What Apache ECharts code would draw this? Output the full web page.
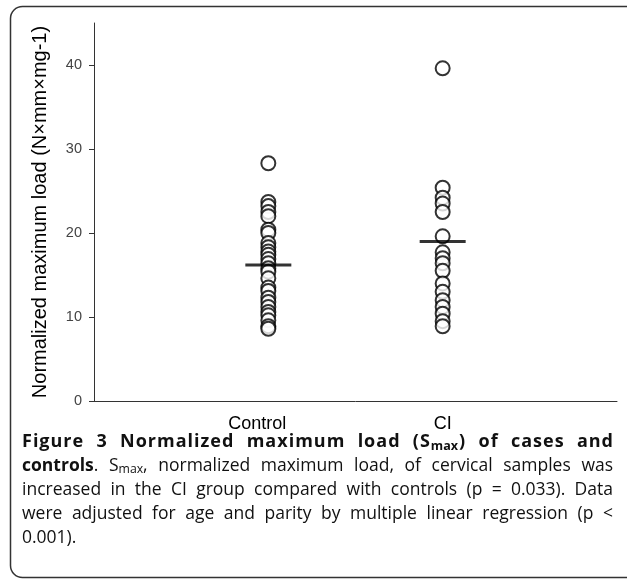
<!DOCTYPE html>
<html><head><meta charset="utf-8">
<script src="https://cdn.jsdelivr.net/npm/echarts@6/dist/echarts.min.js"></script>
<style>html,body{margin:0;padding:0;background:#fff}#c{width:627px;height:585px}</style>
</head><body><div id="c"></div>
<script>
// ---- data ----
const categories = ['Control', 'CI'];
const categoryPos = [1, 2];
const controlValues = [28.3, 23.7, 23.2, 22.5, 22.0, 20.4, 20.0, 18.8, 18.3, 17.8, 17.4, 16.9, 16.4, 15.8, 15.4, 14.6, 13.5, 13.1, 12.3, 11.8, 11.2, 10.6, 10.2, 9.6, 8.9, 8.6];
const ciValues = [39.6, 25.4, 24.2, 23.5, 22.5, 19.6, 17.7, 17.0, 16.4, 15.5, 14.0, 13.0, 12.0, 11.2, 10.4, 9.5, 8.9];
const meanValues = [16.2, 19.0];
const yTicks = [0, 10, 20, 30, 40];
const yAxisTitle = 'Normalized maximum load (N×mm×mg-1)';

const chart = echarts.init(document.getElementById('c'), null, {renderer: 'canvas'});

// ---- caption (justified via measured widths) ----
const FONT = '"Open Sans", sans-serif';
const captionLines = [
  {justify: 'word', size: 18, letter: 1, words: [
    [['Figure', 'b']], [['3', 'b']], [['Normalized', 'b']], [['maximum', 'b']], [['load', 'b']],
    [['(S', 'b'], ['max', 'bs'], [')', 'b']], [['of', 'b']], [['cases', 'b']], [['and', 'b']]]},
  {justify: 'word', size: 17.5, letter: 0, words: [
    [['controls', 'b'], ['.', 'r']], [['S', 'r'], ['max', 'rs'], [',', 'r']], [['normalized', 'r']], [['maximum', 'r']],
    [['load,', 'r']], [['of', 'r']], [['cervical', 'r']], [['samples', 'r']], [['was', 'r']]]},
  {justify: 'word', size: 17.5, letter: 0, words: 'increased in the CI group compared with controls (p = 0.033). Data'.split(' ').map(w => [[w, 'r']])},
  {justify: 'word', size: 17.5, letter: 0, words: 'were adjusted for age and parity by multiple linear regression (p <'.split(' ').map(w => [[w, 'r']])},
  {justify: 'none', size: 17.5, letter: 0, words: '0.001).'.split(' ').map(w => [[w, 'r']])}
];
function fontFor(k, size) {
  const bold = k[0] === 'b';
  const sub = k.length > 1 && k[1] === 's';
  return (bold ? 'bold ' : '') + (sub ? size * 0.7 : size) + 'px ' + FONT;
}
const ctx = document.createElement('canvas').getContext('2d');
function measure(t, k, size) { ctx.font = fontFor(k, size); return ctx.measureText(t).width; }
const capLeft = 22, capRight = 613, capTop = 442, capLH = 24;
const captionGraphics = [];
function pushText(t, k, x, y, size) {
  const sub = k.length > 1;
  captionGraphics.push({
    type: 'text', x: x, y: sub ? y + 4 : y, silent: true,
    style: {text: t, font: fontFor(k, size), fill: '#111', verticalAlign: 'middle'}
  });
}
// split a word into drawable pieces (per character when letter spacing is used)
function pieces(w, ls) {
  const out = [];
  w.forEach(seg => {
    if (ls > 0 && seg[1].length === 1) seg[0].split('').forEach(ch => out.push([ch, seg[1]]));
    else out.push(seg);
  });
  return out;
}
captionLines.forEach((line, li) => {
  const y = capTop + li * capLH;
  const size = line.size, ls = line.letter;
  const words = line.words.map(w => pieces(w, ls));
  const widths = words.map(p => p.reduce((s, seg) => s + measure(seg[0], seg[1], size), 0) + ls * (p.length - 1));
  const total = widths.reduce((a, b) => a + b, 0);
  const normalGap = measure(' ', 'r', size);
  const gap = line.justify === 'word' ? (capRight - capLeft - total) / (words.length - 1) : normalGap;
  let x = capLeft;
  words.forEach((p, wi) => {
    let sx = x;
    p.forEach(seg => { pushText(seg[0], seg[1], sx, y, size); sx += measure(seg[0], seg[1], size) + ls; });
    x += widths[wi] + gap;
  });
});

const AX = 'Liberation Sans, Arial, sans-serif';
const option = {
  backgroundColor: '#fff',
  animation: false,
  grid: {left: 94, right: 10, top: 23, bottom: 184, containLabel: false},
  xAxis: {
    type: 'value', min: 0, max: 3, interval: 1,
    axisLine: {show: true, lineStyle: {color: '#333', width: 1}},
    axisTick: {show: false},
    splitLine: {show: false},
    axisLabel: {
      margin: 14, fontFamily: AX, fontSize: 18, color: '#000',
      formatter: v => { const i = categoryPos.indexOf(v); if (i < 0) return ''; return i === 0 ? '{a|' + categories[i] + '}' : categories[i]; },
      rich: {a: {fontFamily: AX, fontSize: 18, color: '#000', padding: [0, 22, 0, 0]}}
    }
  },
  yAxis: {
    type: 'value', min: 0, max: 45,
    name: yAxisTitle, nameLocation: 'middle', nameGap: 44,
    nameTextStyle: {fontFamily: AX, fontSize: 20, color: '#000'},
    axisLine: {show: true, lineStyle: {color: '#333', width: 1}},
    axisTick: {show: true, length: 5, customValues: yTicks, lineStyle: {color: '#333'}},
    axisLabel: {customValues: yTicks, margin: 12, fontFamily: AX, fontSize: 14.5, color: '#444'},
    splitLine: {show: false}
  },
  graphic: [
    {type: 'rect', shape: {x: 10.5, y: 6.5, width: 640, height: 571, r: 12},
     style: {fill: 'none', stroke: '#333', lineWidth: 1.5}, z: 100, silent: true},
    ...captionGraphics
  ],
  series: [
    {type: 'scatter', name: categories[0], data: controlValues.map(v => [categoryPos[0], v]),
     symbol: 'circle', symbolSize: 14, itemStyle: {color: '#fff', borderColor: '#000', borderWidth: 2}, z: 2},
    {type: 'scatter', name: categories[1], data: ciValues.map(v => [categoryPos[1], v]),
     symbol: 'circle', symbolSize: 14, itemStyle: {color: '#fff', borderColor: '#000', borderWidth: 2}, z: 2},
    {type: 'scatter', name: 'mean', data: meanValues.map((v, i) => [categoryPos[i], v]),
     symbol: 'rect', symbolSize: [46, 3], itemStyle: {color: '#000'}, z: 3}
  ]
};
chart.setOption(option);
</script></body></html>
